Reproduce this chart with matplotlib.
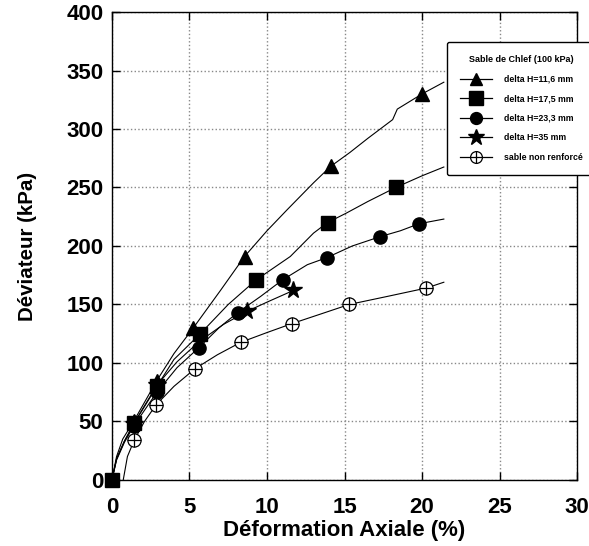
import matplotlib
matplotlib.use("Agg")
import matplotlib.pyplot as plt
from matplotlib.lines import Line2D

plt.rcParams['font.family'] = ['Liberation Sans', 'DejaVu Sans']
plt.rcParams['font.weight'] = 'bold'

# --- data -----------------------------------------------------------
labels = ["delta H=11,6 mm", "delta H=17,5 mm", "delta H=23,3 mm",
          "delta H=35 mm", "sable non renforcé"]
legend_title = "Sable de Chlef (100 kPa)"

# curves (line)
tri_x = [0, 0.3, 0.7, 1.4, 2.9, 4.0, 5.25, 7.0, 8.55, 10.0, 11.3, 13.0, 14.1, 15.35, 16.5, 18.1, 18.4, 20.0, 21.4]
tri_y = [0, 20, 35, 50, 85, 108, 130, 162, 191, 213, 231, 254, 268, 280, 292, 308, 317, 330, 340]
sq_x = [0, 0.3, 0.8, 1.44, 2.9, 4.0, 5.7, 7.5, 9.3, 11.5, 13.0, 13.9, 15.1, 16.5, 18.3, 20.0, 21.4]
sq_y = [0, 18, 33, 48.5, 80, 103, 125, 150, 171, 191, 211, 220, 228, 238, 250, 260, 267.5]
ci_x = [0, 0.3, 0.8, 1.4, 2.9, 4.2, 5.6, 6.9, 8.1, 9.6, 11.0, 12.6, 13.85, 15.5, 17.3, 18.6, 19.8, 21.4]
ci_y = [0, 17, 32, 46, 75, 96, 113, 130, 143, 157, 171, 184, 190, 200, 208, 213, 219, 223]
st_x = [0, 0.3, 0.8, 1.4, 2.9, 4.2, 5.6, 7.2, 8.7, 10.0, 11.7]
st_y = [0, 18, 33, 48, 81, 101, 118, 133, 144, 152, 162]
oc_x = [0.73, 1.0, 1.44, 2.1, 2.84, 4.0, 5.35, 6.8, 8.3, 10.0, 11.6, 13.5, 15.3, 17.8, 20.26, 21.4]
oc_y = [0, 20, 34, 50, 64, 80, 95, 107, 117.6, 126, 133.6, 142, 150, 157, 164, 169]

# markers
tri_mx = [1.4, 2.9, 5.25, 8.55, 14.1, 20.0]
tri_my = [50, 85, 130, 191, 268, 330]
sq_mx = [0, 1.44, 2.9, 5.7, 9.3, 13.9, 18.3]
sq_my = [0, 48.5, 80, 125, 171, 220, 250]
ci_mx = [1.4, 2.9, 5.6, 8.1, 11.0, 13.85, 17.3, 19.8]
ci_my = [46, 75, 113, 143, 171, 190, 208, 219]
st_mx = [1.4, 2.9, 8.7, 11.7]
st_my = [48, 81, 144, 162]
oc_mx = [1.44, 2.84, 5.35, 8.3, 11.6, 15.3, 20.26]
oc_my = [34, 64, 95, 117.6, 133.6, 150, 164]

xticks = [0, 5, 10, 15, 20, 25, 30]
yticks = [0, 50, 100, 150, 200, 250, 300, 350, 400]

# --- figure ---------------------------------------------------------
fig = plt.figure(figsize=(5.89, 5.46), dpi=100)
ax = fig.add_axes([0.190, 0.121, 0.790, 0.857])

filled = [
    (tri_x, tri_y, tri_mx, tri_my, dict(marker='^', ms=9.5, mfc='black', mec='black')),
    (sq_x, sq_y, sq_mx, sq_my, dict(marker='s', ms=10.5, mfc='black', mec='black')),
    (ci_x, ci_y, ci_mx, ci_my, dict(marker='o', ms=9.5, mfc='black', mec='black')),
    (st_x, st_y, st_mx, st_my, dict(marker='*', ms=13, mfc='black', mec='black')),
]

handles = []
for (lx, ly, mx, my, st), lab in zip(filled, labels[:4]):
    ax.plot(lx, ly, color='black', lw=0.8, zorder=3)
    ax.plot(mx, my, ls='none', zorder=4, clip_on=False, **st)
    hs = dict(st)
    hs['ms'] = st['ms'] * 0.9
    handles.append(Line2D([], [], color='black', lw=0.9, **hs))

# open circle with cross
ax.plot(oc_x, oc_y, color='black', lw=0.8, zorder=3)
ax.plot(oc_mx, oc_my, ls='none', marker='o', ms=9.5, mfc='white', mec='black', mew=0.9, zorder=4)
ax.plot(oc_mx, oc_my, ls='none', marker='+', ms=9.5, mec='black', mew=0.9, zorder=5)
h_line = Line2D([], [], color='black', lw=0.9)
h_c = Line2D([], [], ls='none', marker='o', ms=8.5, mfc='white', mec='black', mew=0.9)
h_p = Line2D([], [], ls='none', marker='+', ms=8.5, mec='black', mew=0.9)
handles.append((h_line, h_c, h_p))

ax.set_xlim(0, 30)
ax.set_ylim(0, 400)
ax.set_xticks(xticks)
ax.set_yticks(yticks)
ax.grid(True, color='#888888', ls=':', lw=1.0)
ax.tick_params(direction='in', length=6, width=1, top=True, right=True,
               labelsize=16)
ax.tick_params(axis='x', pad=12)
ax.tick_params(axis='y', pad=6)
for lab in ax.get_xticklabels() + ax.get_yticklabels():
    lab.set_fontweight('bold')
for s in ax.spines.values():
    s.set_linewidth(1)

ax.set_xlabel("Déformation Axiale (%)", fontsize=16, fontweight='bold', labelpad=2)
ax.set_ylabel("Déviateur (kPa)", fontsize=14.8, fontweight='bold', labelpad=21)

leg = ax.legend(handles=handles, labels=labels, title=legend_title, loc='upper left',
                bbox_to_anchor=(447/589, 1 - 42/546), bbox_transform=fig.transFigure,
                borderaxespad=0,
                fontsize=6.3, title_fontproperties={'size': 6.5, 'weight': 'bold'},
                frameon=True, fancybox=True, edgecolor='black', framealpha=1,
                handlelength=3.6, labelspacing=1.2, borderpad=1.5, handletextpad=1.4)
leg.get_frame().set_linewidth(1)
for t in leg.get_texts():
    t.set_fontweight('bold')
leg._legend_box.align = "center"

fig.savefig("out.png", dpi=100)
